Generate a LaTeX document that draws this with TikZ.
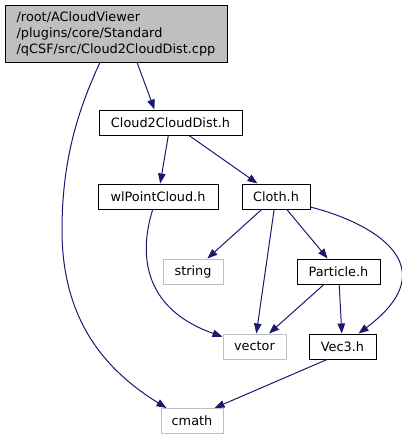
\documentclass[tikz,border=0pt]{standalone}
\usepackage{fontspec}
\setmainfont{DejaVu Sans}
\usepackage{tikz}
\usetikzlibrary{arrows.meta}

\definecolor{edgeblue}{HTML}{191970}
\definecolor{grey75}{HTML}{BFBFBF}
\tikzset{
  filebox/.style={draw=black,fill=white,line width=1pt,inner sep=0pt,
    minimum height=25pt,font=\fontsize{12.85}{16}\selectfont},
  sysbox/.style={filebox,draw=grey75},
  incl/.style={edgeblue,line width=1pt,-{Triangle[length=10pt,width=7.5pt]}}
}

\begin{document}
\begin{tikzpicture}[x=1pt,y=-1pt]
  \useasboundingbox (0,0) rectangle (402,440);
  \node[filebox,fill=grey75,minimum width=222pt,minimum height=57pt,align=left]
    (top) at (116,33.5) {/root/ACloudViewer\\/plugins/core/Standard\\/qCSF/src/Cloud2CloudDist.cpp};
  \foreach \n/\x/\y/\w/\t in {c2cd/170.5/122.5/143/Cloud2CloudDist.h,
      wl/158/196.5/120/wlPointCloud.h, cloth/276/196.5/68/Cloth.h,
      particle/338.5/271.5/83/Particle.h, vec3/342.5/346.5/67/Vec3.h} {
    \node[filebox,minimum width=\w pt] (\n) at (\x,\y) {\t};
  }
  \foreach \n/\x/\y/\w/\t in {string/193/271.5/60/string,
      vector/254.5/346.5/63/vector, cmath/192/421/62/cmath} {
    \node[sysbox,minimum width=\w pt] (\n) at (\x,\y) {\t};
  }
  \foreach \a/\b in {c2cd/wl, c2cd/cloth, cloth/string, cloth/vector,
      cloth/particle, particle/vector, particle/vec3} {
    \draw[incl] (\a) -- (\b);
  }
  \draw[incl] (top.-54) -- (c2cd.141);
  \draw[incl] (top.-119) .. controls (78,110) and (62,160) .. (62,230)
    .. controls (62,320) and (105,370) .. (cmath.153);
  \draw[incl] (wl.-112) .. controls (143,240) and (133,305) .. (vector.163);
  \draw[incl] (cloth.-17) .. controls (370,222) and (450,265) .. (vec3.39);
  \draw[incl] (vec3.-140) -- (cmath.30);
\end{tikzpicture}
\end{document}
